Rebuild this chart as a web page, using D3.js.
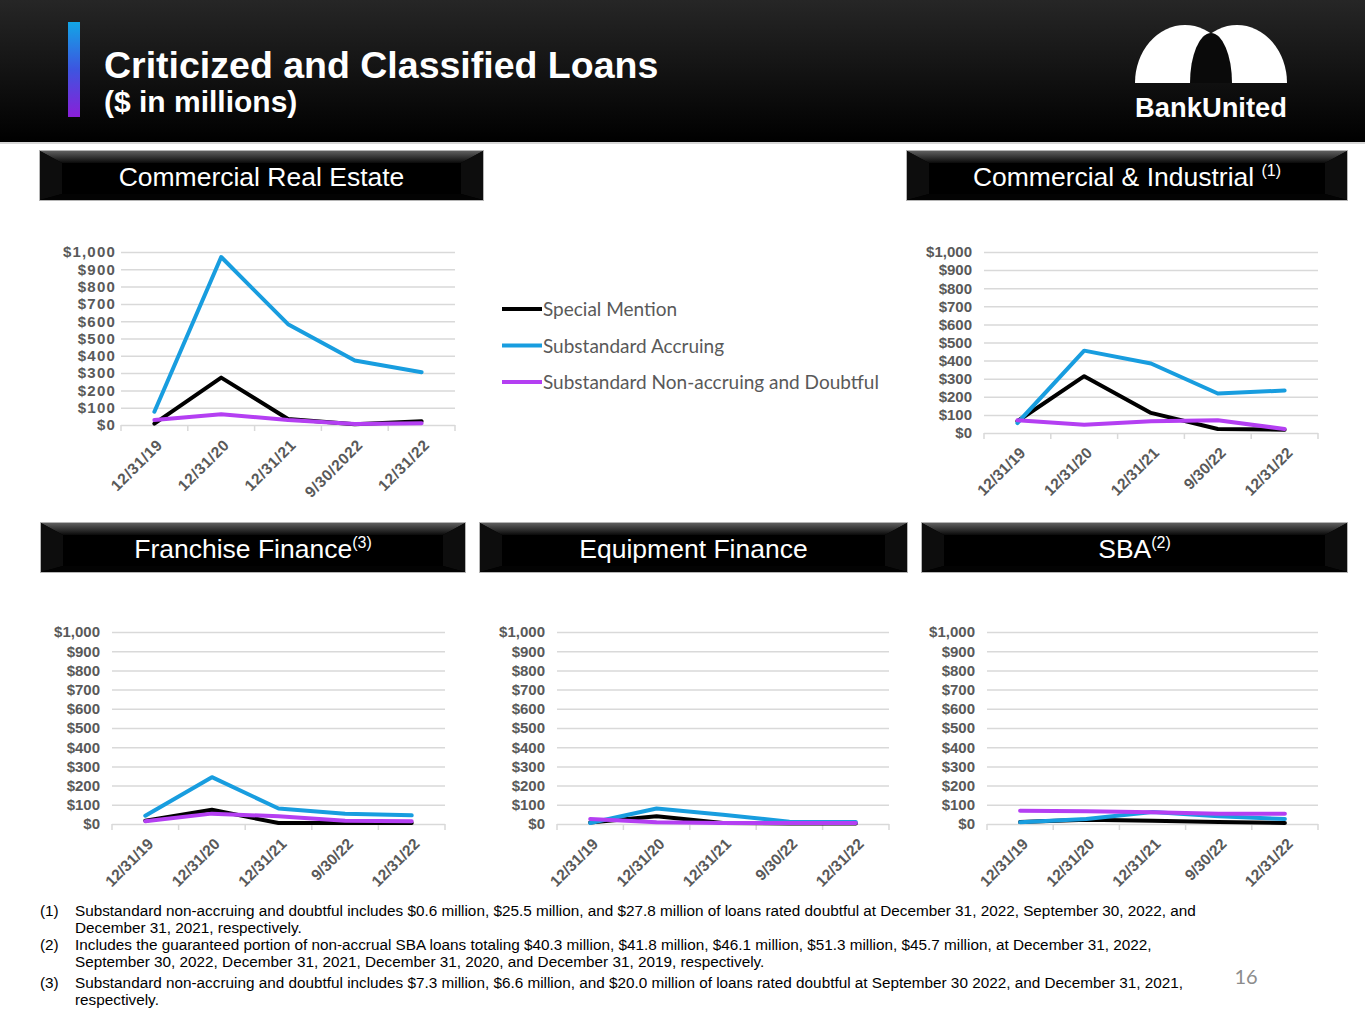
<!DOCTYPE html>
<html>
<head>
<meta charset="utf-8">
<script src="https://d3js.org/d3.v7.min.js"></script>
<style>
  body { margin: 0; background: #fff; }
  svg { display: block; }
</style>
</head>
<body>
<div id="slide"></div>
<script>
// ---- data ($ millions) ----
var periods = ["12/31/19", "12/31/20", "12/31/21", "9/30/22", "12/31/22"];
var periodsCre = ["12/31/19", "12/31/20", "12/31/21", "9/30/2022", "12/31/22"];
var seriesNames = ["Special Mention", "Substandard Accruing", "Substandard Non-accruing and Doubtful"];
var yTicks = [0, 100, 200, 300, 400, 500, 600, 700, 800, 900, 1000];

var creSpecial = [8, 274, 35, 5, 22];
var creAccruing = [77, 971, 583, 373, 305];
var creNonAccrual = [29, 62, 29, 6, 10];

var ciSpecial = [65, 314, 111, 22, 18];
var ciAccruing = [55, 455, 384, 218, 235];
var ciNonAccrual = [70, 46, 65, 70, 22];

var ffSpecial = [17, 74, 5, 5, 5];
var ffAccruing = [43, 244, 81, 54, 45];
var ffNonAccrual = [14, 54, 40, 17, 14];

var efSpecial = [8, 40, 5, 3, 3];
var efAccruing = [5, 81, 48, 12, 10];
var efNonAccrual = [26, 9, 5, 5, 5];

var sbaSpecial = [10, 22, 17, 10, 5];
var sbaAccruing = [9, 26, 62, 40, 26];
var sbaNonAccrual = [69, 67, 61, 54, 54];

var footnotes = [
  ["(1)", "Substandard non-accruing and doubtful includes $0.6 million, $25.5 million, and $27.8 million of loans rated doubtful at December 31, 2022, September 30, 2022, and",
          "December 31, 2021, respectively."],
  ["(2)", "Includes the guaranteed portion of non-accrual SBA loans totaling $40.3 million, $41.8 million, $46.1 million, $51.3 million, $45.7 million, at December 31, 2022,",
          "September 30, 2022, December 31, 2021, December 31, 2020, and December 31, 2019, respectively."],
  ["(3)", "Substandard non-accruing and doubtful includes $7.3 million, $6.6 million, and $20.0 million of loans rated doubtful at September 30 2022, and December 31, 2021,",
          "respectively."]
];

// ---- styles ----
var colors = ["#000000", "#189ddf", "#b43ff2"];
var gray = "#595959";
var gridColor = "#d9d9d9";

var charts = [
  { title: "Commercial Real Estate", sup: "", box: [40, 151, 443, 49], plot: [121, 252, 455, 425], gap: 5, lsp: 1.2,
    cats: periodsCre, series: [creSpecial, creAccruing, creNonAccrual], legend: true },
  { title: "Commercial & Industrial ", sup: "(1)", box: [907, 151, 440, 49], plot: [984, 252, 1318, 433], gap: 12, lsp: 0,
    cats: periods, series: [ciSpecial, ciAccruing, ciNonAccrual] },
  { title: "Franchise Finance", sup: "(3)", box: [41, 523, 424, 49], plot: [112, 632, 445, 824], gap: 12, lsp: 0,
    cats: periods, series: [ffSpecial, ffAccruing, ffNonAccrual] },
  { title: "Equipment Finance", sup: "", box: [480, 523, 427, 49], plot: [557, 632, 889, 824], gap: 12, lsp: 0,
    cats: periods, series: [efSpecial, efAccruing, efNonAccrual] },
  { title: "SBA", sup: "(2)", box: [922, 523, 425, 49], plot: [987, 632, 1318, 824], gap: 12, lsp: 0,
    cats: periods, series: [sbaSpecial, sbaAccruing, sbaNonAccrual] }
];

var W = 1365, H = 1024;
var svg = d3.select("#slide").append("svg")
  .attr("width", W)
  .attr("height", H)
  .style("font-family", "'Liberation Sans', Arial, sans-serif");

var defs = svg.append("defs");

var hdr = defs.append("linearGradient").attr("id", "hdrGrad")
  .attr("x1", 0).attr("y1", 0).attr("x2", 0).attr("y2", 1);
hdr.append("stop").attr("offset", "0%").attr("stop-color", "#262626");
hdr.append("stop").attr("offset", "100%").attr("stop-color", "#000000");

var accent = defs.append("linearGradient").attr("id", "accentGrad")
  .attr("x1", 0).attr("y1", 0).attr("x2", 0).attr("y2", 1);
accent.append("stop").attr("offset", "0%").attr("stop-color", "#12a6e6");
accent.append("stop").attr("offset", "50%").attr("stop-color", "#3d55e0");
accent.append("stop").attr("offset", "100%").attr("stop-color", "#8a1fd8");

var bevel = defs.append("linearGradient").attr("id", "bevelGrad")
  .attr("x1", 0).attr("y1", 0).attr("x2", 0).attr("y2", 1);
bevel.append("stop").attr("offset", "0%").attr("stop-color", "#5e5e5e");
bevel.append("stop").attr("offset", "100%").attr("stop-color", "#0a0a0a");

// ---- header ----
svg.append("rect").attr("x", 0).attr("y", 0).attr("width", W).attr("height", 142).attr("fill", "url(#hdrGrad)");
svg.append("rect").attr("x", 0).attr("y", 142).attr("width", W).attr("height", 2).attr("fill", "#d6d6d6");
svg.append("rect").attr("x", 68).attr("y", 22).attr("width", 12).attr("height", 95).attr("fill", "url(#accentGrad)");

svg.append("text").attr("x", 104).attr("y", 78)
  .attr("fill", "#fff").style("font-size", "37.5px").style("font-weight", "bold")
  .text("Criticized and Classified Loans");
svg.append("text").attr("x", 104).attr("y", 112)
  .attr("fill", "#fff").style("font-size", "30px").style("font-weight", "bold")
  .text("($ in millions)");

// logo: two white arches with a dark arch between them
var logo = svg.append("g");
logo.append("path").attr("fill", "#fff")
  .attr("d", "M1135,83 A50,58 0 0 1 1235,83 Z");
logo.append("path").attr("fill", "#fff")
  .attr("d", "M1187,83 A50,58 0 0 1 1287,83 Z");
logo.append("path").attr("fill", "#0a0a0a")
  .attr("d", "M1190,83 A21,50 0 0 1 1232,83 Z");
logo.append("text").attr("x", 1135).attr("y", 117)
  .attr("fill", "#fff").style("font-size", "27px").style("font-weight", "bold")
  .attr("textLength", 152).attr("lengthAdjust", "spacingAndGlyphs")
  .text("BankUnited");

// ---- section title boxes ----
function titleBox(c) {
  var x = c.box[0], y = c.box[1], w = c.box[2], h = c.box[3], b = 22;
  var g = svg.append("g");
  g.append("rect").attr("x", x - 1).attr("y", y - 1).attr("width", w + 2).attr("height", h + 2).attr("fill", "#b5b5b5");
  g.append("rect").attr("x", x).attr("y", y).attr("width", w).attr("height", h).attr("fill", "#000");
  g.append("polygon").attr("fill", "url(#bevelGrad)")
    .attr("points", [[x, y], [x + w, y], [x + w - b, y + 12], [x + b, y + 12]].join(" "));
  g.append("polygon").attr("fill", "#0d0d0d")
    .attr("points", [[x, y], [x + b, y + 12], [x + b, y + h - 6], [x, y + h]].join(" "));
  g.append("polygon").attr("fill", "#0d0d0d")
    .attr("points", [[x + w, y], [x + w - b, y + 12], [x + w - b, y + h - 6], [x + w, y + h]].join(" "));
  g.append("polygon").attr("fill", "#030303")
    .attr("points", [[x, y + h], [x + b, y + h - 6], [x + w - b, y + h - 6], [x + w, y + h]].join(" "));
  var t = g.append("text").attr("x", x + w / 2).attr("y", y + 35)
    .attr("fill", "#fff").style("font-size", "26.5px").attr("text-anchor", "middle");
  t.append("tspan").text(c.title);
  if (c.sup) {
    t.append("tspan").attr("dy", -10).style("font-size", "16px").text(c.sup);
  }
}

// ---- charts ----
function drawChart(c) {
  var x0 = c.plot[0], y0 = c.plot[1], x1 = c.plot[2], y1 = c.plot[3];
  var x = d3.scaleBand().domain(c.cats).range([x0, x1]);
  var y = d3.scaleLinear().domain([0, 1000]).range([y1, y0]);
  var g = svg.append("g");

  g.append("g")
    .attr("transform", "translate(" + x0 + ",0)")
    .call(d3.axisLeft(y)
      .tickValues(yTicks)
      .tickSize(-(x1 - x0))
      .tickPadding(c.gap)
      .tickFormat(function(d) { return "$" + d3.format(",")(d); }))
    .call(function(a) {
      a.select(".domain").remove();
      a.selectAll("line").attr("stroke", gridColor).attr("stroke-width", 1.5);
      a.selectAll("text")
        .attr("fill", gray)
        .style("font-size", "15px")
        .style("font-weight", "bold")
        .style("letter-spacing", c.lsp + "px")
        .style("font-family", "'Liberation Sans', Arial, sans-serif");
    });

  // category boundary ticks on the x axis
  var bounds = d3.range(c.cats.length + 1).map(function(i) { return x0 + i * x.step(); });
  g.selectAll(".xtick").data(bounds).enter().append("line")
    .attr("x1", function(d) { return d; }).attr("x2", function(d) { return d; })
    .attr("y1", y1).attr("y2", y1 + 6)
    .attr("stroke", gridColor).attr("stroke-width", 1.5);

  g.selectAll(".xlab").data(c.cats).enter().append("text")
    .attr("transform", function(d) {
      return "translate(" + (x(d) + x.bandwidth() / 2 + 9) + "," + (y1 + 21) + ") rotate(-45)";
    })
    .attr("text-anchor", "end")
    .attr("fill", gray)
    .style("font-size", "15.5px")
    .style("font-weight", "bold")
    .style("letter-spacing", (c.lsp / 2) + "px")
    .text(function(d) { return d; });

  var line = d3.line()
    .x(function(d, i) { return x(c.cats[i]) + x.bandwidth() / 2; })
    .y(function(d) { return y(d); });

  c.series.forEach(function(s, i) {
    g.append("path")
      .datum(s)
      .attr("fill", "none")
      .attr("stroke", colors[i])
      .attr("stroke-width", 4)
      .attr("stroke-linejoin", "round")
      .attr("stroke-linecap", "round")
      .attr("d", line);
  });
}

charts.forEach(function(c) {
  titleBox(c);
  drawChart(c);
});

// ---- legend ----
var legend = svg.append("g").attr("transform", "translate(502,309)");
seriesNames.forEach(function(name, i) {
  var row = legend.append("g").attr("transform", "translate(0," + (i * 36.5) + ")");
  row.append("line").attr("x1", 0).attr("x2", 40).attr("y1", 0).attr("y2", 0)
    .attr("stroke", colors[i]).attr("stroke-width", 4);
  row.append("text").attr("x", 41).attr("y", 7)
    .attr("fill", gray)
    .style("font-family", "Lato, 'Open Sans', sans-serif")
    .style("font-size", "19px")
    .text(name);
});

// ---- footnotes ----
var fnY = [916, 950, 988];
footnotes.forEach(function(f, i) {
  var g = svg.append("g").style("font-size", "15.3px").attr("fill", "#000");
  g.append("text").attr("x", 40).attr("y", fnY[i]).text(f[0]);
  g.append("text").attr("x", 75).attr("y", fnY[i]).text(f[1]);
  g.append("text").attr("x", 75).attr("y", fnY[i] + 17).text(f[2]);
});

svg.append("text").attr("x", 1246).attr("y", 984)
  .attr("text-anchor", "middle")
  .attr("fill", "#8c8c8c")
  .style("font-family", "Lato, 'Open Sans', sans-serif")
  .style("font-size", "20px")
  .text("16");
</script>
</body>
</html>
